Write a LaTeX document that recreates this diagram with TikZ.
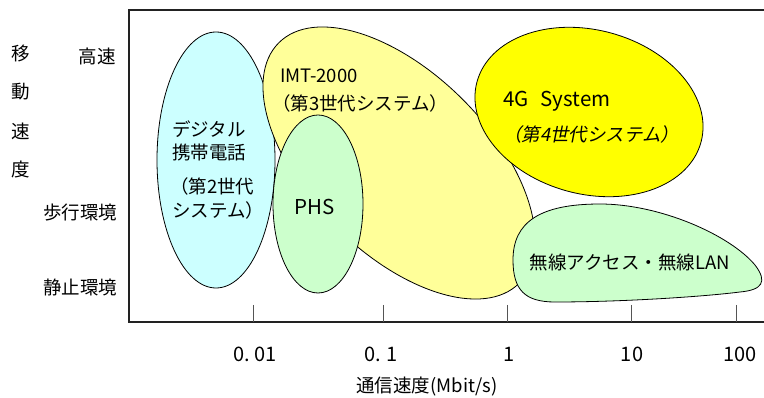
\documentclass[tikz,border=0pt]{standalone}
\usepackage{fontspec}
\setmainfont{Noto Sans CJK JP}
\newfontfamily\cjkit[FakeSlant=0.2]{Noto Sans CJK JP}
\definecolor{cyanfill}{HTML}{CCFFFF}
\definecolor{imtfill}{HTML}{FFFF99}
\definecolor{greenfill}{HTML}{CCFFCC}
\definecolor{yellowfill}{HTML}{FFFF00}
\definecolor{framecol}{HTML}{222222}
\definecolor{tickcol}{HTML}{555555}
\begin{document}
\begin{tikzpicture}[x=1pt,y=-1pt,
  font=\fontsize{18.5}{22}\selectfont,
  blob/.style={draw=black, line width=0.8pt},
  lbl/.style={inner sep=0pt, anchor=center},
  lbll/.style={inner sep=0pt, anchor=west},
  latin/.style={font=\fontsize{20.5}{24}\selectfont},
  tickline/.style={draw=tickcol, line width=1pt},
  numlbl/.style={inner sep=0pt, anchor=center, font=\fontsize{20}{24}\selectfont}]
\useasboundingbox (0,0) rectangle (764,398);
\fill[white] (0,0) rectangle (764,398);
% shapes
\draw[blob, fill=cyanfill] (216,160) ellipse [x radius=59, y radius=128];
\draw[blob, fill=imtfill, rotate around={-45:(399,163)}] (399,163) ellipse [x radius=170, y radius=90];
\draw[blob, fill=greenfill] (318,204) ellipse [x radius=45, y radius=89];
\draw[blob, fill=yellowfill, rotate around={-15:(589,112)}] (589,112) ellipse [x radius=116, y radius=82];
\draw[blob, fill=greenfill] (513,260)
  .. controls (513,222) and (540,204) .. (600,204)
  .. controls (660,204) and (730,235) .. (755,265)
  .. controls (768,282) and (762,290) .. (740,292)
  .. controls (700,297) and (620,302) .. (555,302)
  .. controls (525,302) and (513,290) .. (513,260) -- cycle;
% frame
\coordinate (tl) at (129,10);
\coordinate (tr) at (764,10);
\coordinate (bl) at (129,322);
\coordinate (br) at (764,322);
\draw[draw=framecol, line width=1.2pt] (tr) -- (tl) -- (bl) -- (br);
% ticks
\foreach \x in {253,383,507,631,736} {
  \draw[tickline] (\x,305) -- (\x,322);
}
% y labels
\node[lbl] (m1) at (21,53) {移};
\node[lbl] (m2) at (21,92) {動};
\node[lbl] (m3) at (21,131) {速};
\node[lbl] (m4) at (21,169) {度};
\node[lbl] (hs) at (97,56) {高速};
\node[lbl] (hk) at (80,213) {歩行環境};
\node[lbl] (sk) at (80,287) {静止環境};
% x labels
\node[numlbl] (x1) at (255,354) {0.\ 01};
\node[numlbl] (x2) at (381,354) {0.\ 1};
\node[numlbl] (x3) at (509,354) {1};
\node[numlbl] (x4) at (632,354) {10};
\node[numlbl] (x5) at (740,354) {100};
\node[lbl] (xt) at (427,387) {通信速度(Mbit/s)};
% shape labels
\node[lbll] (d1) at (172,129) {デジタル};
\node[lbll] (d2) at (172,152) {携帯電話};
\node[lbll] (d3) at (170,186) {（第2世代};
\node[lbll] (d4) at (172,210) {システム）};
\node[lbll] (i1) at (280,76) {IMT-2000};
\node[lbll] (i2) at (272,103) {（第3世代システム）};
\node[lbl, latin] (phs) at (315,207) {PHS};
\node[lbll, latin] (g1) at (503,101) {4G\hspace{12pt}System};
\node[lbll] (g2) at (503,134) {\cjkit （第4世代システム）};
\node[lbl] (lan) at (630,262) {無線アクセス・無線LAN};
\end{tikzpicture}
\end{document}
